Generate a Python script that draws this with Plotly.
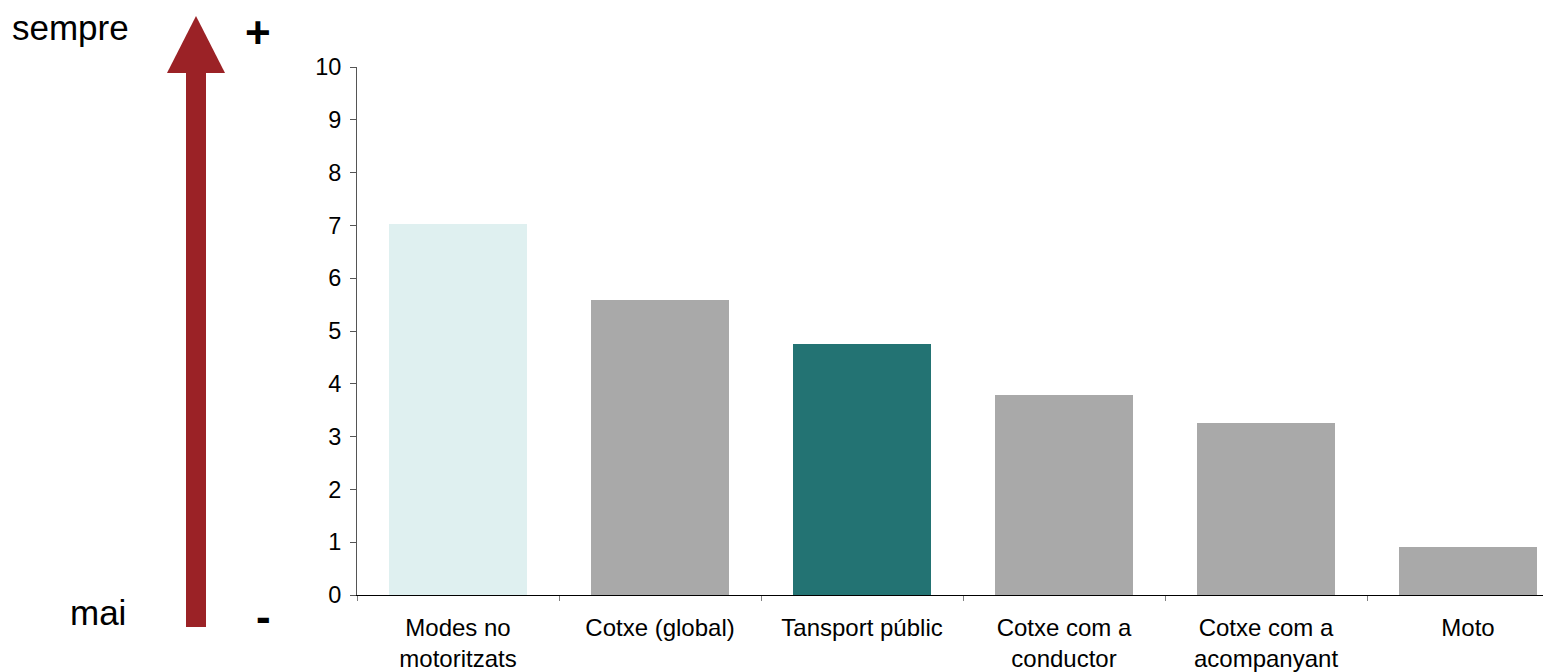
import plotly.graph_objects as go

CATEGORIES = ["Modes no<br>motoritzats", "Cotxe (global)", "Tansport públic",
              "Cotxe com a<br>conductor", "Cotxe com a<br>acompanyant", "Moto"]
VALUES = [7.03, 5.59, 4.75, 3.79, 3.26, 0.91]
BAR_COLORS = ["#DFF0F0", "#A9A9A9", "#237373", "#A9A9A9", "#A9A9A9", "#A9A9A9"]
Y_TICKS = list(range(0, 11))

# la pàgina té 8px de marge: les coordenades de referència es desplacen
OFF = 8
W, H = 1551, 672 - OFF
ML, MT = 357 - OFF, 67 - OFF
MB = H - (595 - OFF)
PW, PH = W - ML, H - MT - MB
PX_CAT = 202.0  # amplada d'una categoria en píxels
X_MAX = -0.5 + PW / PX_CAT
FONT = "Liberation Sans, Arial, sans-serif"
ROJO = "#9B2226"


def px(x):
    return (x - OFF - ML) / PW


def py(y):
    return (H - MB - (y - OFF)) / PH


fig = go.Figure(go.Bar(
    x=CATEGORIES, y=VALUES, marker={"color": BAR_COLORS, "line": {"width": 0}},
    width=0.68, hovertemplate="%{x}: %{y:.2f}<extra></extra>",
))

# fletxa vertical "mai" -> "sempre"
fig.add_shape(type="rect", xref="paper", yref="paper",
              x0=px(186), x1=px(206), y0=py(627), y1=py(70),
              fillcolor=ROJO, line={"width": 0})
fig.add_shape(type="path", xref="paper", yref="paper",
              path=f"M {px(167)},{py(73)} L {px(225)},{py(73)} L {px(196)},{py(16)} Z",
              fillcolor=ROJO, line={"width": 0})

textos = [("sempre", 70, 28, False), ("mai", 98, 612, False),
          ("+", 258, 33, True), ("-", 263, 616, True)]
for txt, x, y, negreta in textos:
    fig.add_annotation(text=f"<b>{txt}</b>" if negreta else txt, xref="paper", yref="paper",
                       x=px(x), y=py(y), showarrow=False, xanchor="center", yanchor="middle",
                       font={"size": 44 if negreta else 35, "color": "#000", "family": FONT})

fig.update_layout(
    width=W, height=H, margin=dict(l=ML, r=0, t=MT, b=MB),
    plot_bgcolor="white", paper_bgcolor="white", showlegend=False,
    font={"family": FONT, "color": "#000"}, bargap=0,
    xaxis=dict(range=[-0.5, X_MAX], tickson="boundaries", ticks="outside", ticklen=5,
               tickcolor="#808080", showline=True, linecolor="#000", linewidth=1,
               showgrid=False, tickfont={"size": 24}, ticklabelstandoff=11,
               automargin=False, fixedrange=True),
    yaxis=dict(range=[0, 10], tickvals=Y_TICKS, ticks="outside", ticklen=6,
               tickcolor="#555", showline=True, linecolor="#555", linewidth=1,
               showgrid=False, zeroline=False, tickfont={"size": 23.5},
               ticklabelstandoff=4, automargin=False, fixedrange=True),
)

fig.write_html("out.html")
